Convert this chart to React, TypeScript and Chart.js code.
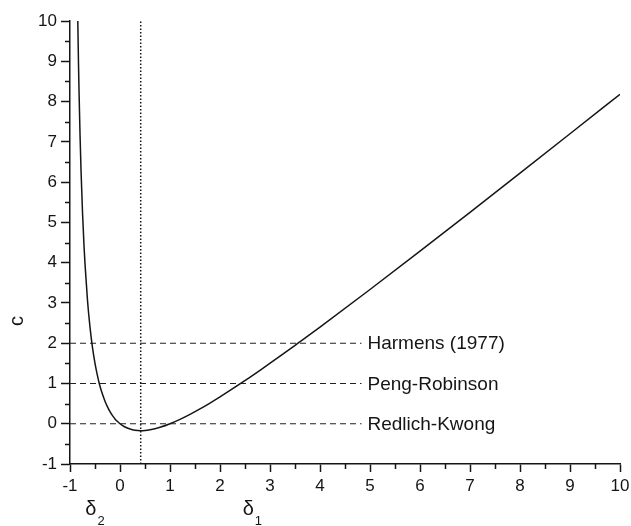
import { useEffect, useRef } from 'react';
import { Chart, registerables } from 'chart.js';

Chart.register(...registerables);

// Curve c(δ): δ values and the matching c values
const deltaValues = [
  -0.844, -0.83, -0.82, -0.8, -0.78, -0.75, -0.72, -0.7, -0.65, -0.6, -0.55, -0.5, -0.45, -0.4,
  -0.35, -0.3, -0.25, -0.2, -0.15, -0.1, -0.05, 0, 0.1, 0.2, 0.3, 0.414, 0.5, 0.6, 0.7, 0.8, 1.0,
  1.2, 1.4, 1.6, 1.8, 2.0, 2.414, 2.8, 3.2, 3.56, 4, 5, 6, 7, 8, 9, 10,
];
const cValues = [
  10.0, 8.94, 8.29, 7.2, 6.31, 5.25, 4.42, 3.97, 3.06, 2.4, 1.89, 1.5, 1.19, 0.93,
  0.73, 0.56, 0.42, 0.3, 0.2, 0.12, 0.055, 0, -0.082, -0.133, -0.162, -0.172, -0.167, -0.15, -0.124, -0.089, 0,
  0.109, 0.233, 0.369, 0.514, 0.667, 1.0, 1.326, 1.676, 2.0, 2.4, 3.333, 4.286, 5.25, 6.222, 7.2, 8.182,
];

// Named equations of state and their c values
const refNames = ['Harmens (1977)', 'Peng-Robinson', 'Redlich-Kwong'];
const refC = [2, 1, 0];
const refLineEnd = 4.83;

// δ at the minimum of the curve
const minimumDelta = 0.414;

// δ labels under the axis: subscript and δ value
const deltaSubs = ['2', '1'];
const deltaMarks = [-0.414, 2.414];

const xMin = -1;
const xMax = 10;
const yMin = -1;
const yMax = 10;

const FONT = '"Liberation Sans", Arial, Helvetica, sans-serif';
const INK = '#151515';

const overlayPlugin = {
  id: 'overlay',
  afterDraw(chart: any) {
    const { ctx, chartArea, scales } = chart;
    const xs = scales.x;
    const ys = scales.y;
    ctx.save();

    // minor ticks at the half units
    ctx.strokeStyle = INK;
    ctx.lineWidth = 1.5;
    ctx.beginPath();
    for (let v = xMin + 0.5; v < xMax; v += 1) {
      const px = Math.round(xs.getPixelForValue(v)) + 0.5;
      ctx.moveTo(px, chartArea.bottom);
      ctx.lineTo(px, chartArea.bottom + 5);
    }
    for (let v = yMin + 0.5; v < yMax; v += 1) {
      const py = Math.round(ys.getPixelForValue(v)) + 0.5;
      ctx.moveTo(chartArea.left - 5, py);
      ctx.lineTo(chartArea.left, py);
    }
    ctx.stroke();

    // names at the end of the dashed lines
    ctx.fillStyle = INK;
    ctx.font = `19px ${FONT}`;
    ctx.textAlign = 'left';
    ctx.textBaseline = 'middle';
    refNames.forEach((name, i) => {
      ctx.fillText(name, xs.getPixelForValue(refLineEnd) + 6, ys.getPixelForValue(refC[i]) + 1);
    });

    // y axis title
    ctx.save();
    ctx.translate(chartArea.left - 53, ys.getPixelForValue(2.55));
    ctx.rotate(-Math.PI / 2);
    ctx.textAlign = 'center';
    ctx.textBaseline = 'middle';
    ctx.font = `20px ${FONT}`;
    ctx.fillText('c', 0, 0);
    ctx.restore();

    // δ1 / δ2 markers under the x axis
    const offsets = [-0.28, 0.04];
    deltaMarks.forEach((d, i) => {
      const px = xs.getPixelForValue(d + offsets[i]);
      const py = chartArea.bottom + 45;
      ctx.font = `20px ${FONT}`;
      ctx.textAlign = 'left';
      ctx.textBaseline = 'middle';
      ctx.fillText('δ', px, py);
      const w = ctx.measureText('δ').width;
      ctx.font = `13px ${FONT}`;
      ctx.fillText(deltaSubs[i], px + w + 1, py + 12);
    });

    ctx.restore();
  },
};

export default function App() {
  const canvasRef = useRef<HTMLCanvasElement | null>(null);

  useEffect(() => {
    if (!canvasRef.current) return;
    const curve = deltaValues.map((x, i) => ({ x, y: cValues[i] }));
    const refSets = refC.map((c, i) => ({
      label: refNames[i],
      data: [
        { x: xMin, y: c },
        { x: refLineEnd, y: c },
      ],
      borderColor: '#222',
      borderWidth: 1.1,
      borderDash: [6, 4],
      pointRadius: 0,
    }));

    const chart = new Chart(canvasRef.current, {
      type: 'line',
      data: {
        datasets: [
          {
            label: 'c',
            data: curve,
            borderColor: INK,
            borderWidth: 1.5,
            pointRadius: 0,
            cubicInterpolationMode: 'monotone',
          },
          ...refSets,
          {
            label: 'minimum',
            data: [
              { x: minimumDelta, y: yMin },
              { x: minimumDelta, y: yMax },
            ],
            borderColor: INK,
            borderWidth: 1.5,
            borderDash: [1.5, 2],
            pointRadius: 0,
          },
        ],
      } as any,
      options: {
        animation: false,
        responsive: false,
        parsing: true,
        layout: { padding: { left: 0, right: 11, top: 21, bottom: 0 } },
        plugins: {
          legend: { display: false },
          tooltip: { enabled: false },
        },
        scales: {
          x: {
            type: 'linear',
            min: xMin,
            max: xMax,
            ticks: {
              stepSize: 1,
              color: INK,
              font: { family: FONT, size: 17 },
              padding: 4,
              maxRotation: 0,
              autoSkip: false,
            },
            grid: {
              drawOnChartArea: false,
              drawTicks: true,
              tickLength: 8,
              tickWidth: 1.5,
              tickColor: INK,
            },
            border: { display: true, color: INK, width: 1.5 },
            afterFit: (s: any) => {
              s.height = 62;
              s.paddingLeft = 0;
              s.paddingRight = 0;
            },
          },
          y: {
            type: 'linear',
            min: yMin,
            max: yMax,
            ticks: {
              stepSize: 1,
              color: INK,
              font: { family: FONT, size: 17 },
              padding: 4,
              autoSkip: false,
            },
            grid: {
              drawOnChartArea: false,
              drawTicks: true,
              tickLength: 9,
              tickWidth: 1.5,
              tickColor: INK,
            },
            border: { display: true, color: INK, width: 1.5 },
            afterFit: (s: any) => {
              s.width = 70;
              s.paddingTop = 0;
              s.paddingBottom = 0;
            },
          },
        },
      } as any,
      plugins: [overlayPlugin],
    });
    return () => chart.destroy();
  }, []);

  return (
    <div style={{ position: 'fixed', left: 0, top: 0, width: 631, height: 526, background: '#fff' }}>
      <canvas ref={canvasRef} width={631} height={526} style={{ width: 631, height: 526 }} />
    </div>
  );
}
